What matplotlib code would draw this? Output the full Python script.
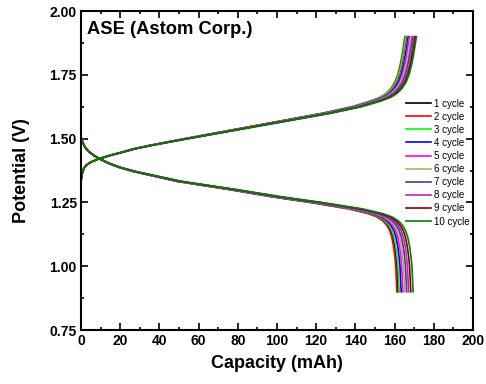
import matplotlib
matplotlib.use("Agg")
import matplotlib.pyplot as plt
import numpy as np
from matplotlib.ticker import MultipleLocator, FormatStrFormatter

plt.rcParams['font.family'] = ['Liberation Sans', 'DejaVu Sans']

cycles = [f"{i} cycle" for i in range(1, 11)]
colors = ['#000000', '#FF0000', '#00FF00', '#0000FF', '#FF00FF',
          '#B0B060', '#404090', '#C020C0', '#800000', '#008000']

charge_cap = [0, 0.5, 1.5, 3, 5, 8, 12, 16, 20, 27, 35, 50, 75, 100, 125, 140, 150, 155,
              158, 160.5, 162.5, 164, 165.2, 166.2, 167, 167.6]
charge_v = [1.335, 1.36, 1.385, 1.398, 1.408, 1.418, 1.428, 1.437, 1.445, 1.46, 1.473, 1.495,
            1.53, 1.565, 1.60, 1.625, 1.648, 1.663, 1.678, 1.698, 1.723, 1.753, 1.79, 1.83,
            1.87, 1.90]
# end-of-charge capacity per cycle
charge_end = [166.0, 165.3, 165.8, 167.0, 167.6, 168.4, 169.2, 170.0, 170.6, 171.2]

dis_cap = [0, 1, 2, 4, 7, 10, 15, 20, 27, 34, 50, 78, 100, 120, 140, 150, 155, 158, 160,
           161.5, 162.7, 163.6, 164.3, 164.8, 165.1, 165.4]
dis_v = [1.505, 1.483, 1.467, 1.449, 1.432, 1.419, 1.401, 1.387, 1.372, 1.36, 1.333, 1.30,
         1.272, 1.25, 1.225, 1.207, 1.193, 1.178, 1.162, 1.142, 1.115, 1.08, 1.04, 1.0,
         0.95, 0.90]
# end-of-discharge capacity per cycle
dis_end = [161.8, 161.2, 162.4, 163.4, 164.3, 165.2, 166.2, 167.2, 168.3, 169.5]

fig = plt.figure(figsize=(4.86, 3.84), dpi=100)
ax = fig.add_axes([0.1667, 0.1406, 0.8063, 0.8304])

for i in range(10):
    cc = np.array(charge_cap) * charge_end[i] / charge_cap[-1]
    dc = np.array(dis_cap) * dis_end[i] / dis_cap[-1]
    ax.plot(cc, charge_v, color=colors[i], lw=1.2, label=cycles[i])
    ax.plot(dc, dis_v, color=colors[i], lw=1.2)

ax.set_xlim(0, 200)
ax.set_ylim(0.75, 2.00)
ax.xaxis.set_major_locator(MultipleLocator(20))
ax.xaxis.set_minor_locator(MultipleLocator(10))
ax.yaxis.set_major_locator(MultipleLocator(0.25))
ax.yaxis.set_minor_locator(MultipleLocator(0.125))
ax.yaxis.set_major_formatter(FormatStrFormatter('%.2f'))
ax.tick_params(which='both', direction='in', top=True, right=True, width=1.2)
ax.tick_params(which='major', length=5, labelsize=10, pad=3)
ax.tick_params(which='minor', length=2.5)
for lab in ax.get_xticklabels() + ax.get_yticklabels():
    lab.set_fontweight('bold')
for s in ax.spines.values():
    s.set_linewidth(1.5)

ax.set_xlabel('Capacity (mAh)', fontsize=13, fontweight='bold', labelpad=5)
ax.set_ylabel('Potential (V)', fontsize=13, fontweight='bold', labelpad=14)
ax.text(0.014, 0.968, 'ASE (Astom Corp.)', transform=ax.transAxes, fontsize=13.2,
        fontweight='bold', va='top', ha='left')

ax.legend(loc='upper right', bbox_to_anchor=(1.0, 0.735), frameon=False, fontsize=7,
          handlelength=2.6, handletextpad=0.3, labelspacing=0.32, borderpad=0.2,
          borderaxespad=0.1)

fig.savefig('out.png', dpi=100)
